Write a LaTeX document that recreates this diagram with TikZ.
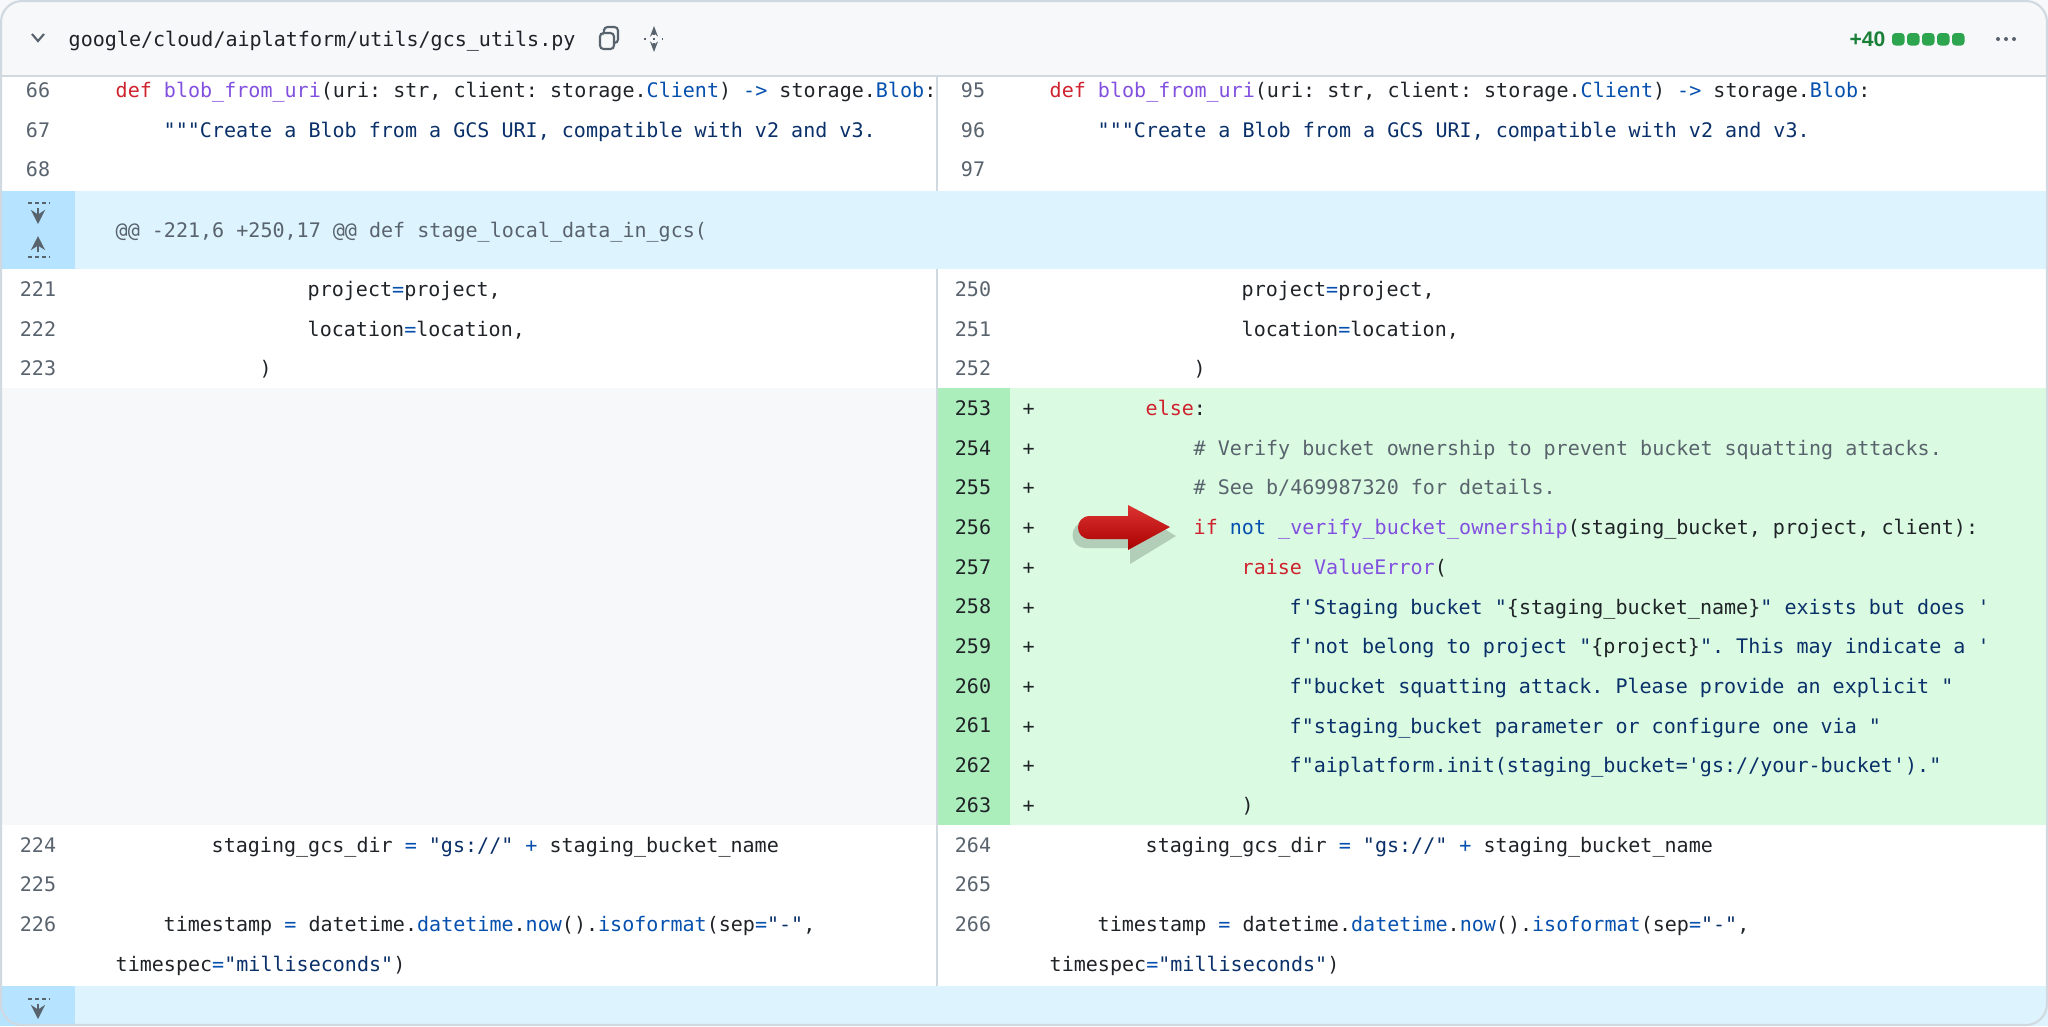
\documentclass[tikz,border=0pt]{standalone}
\usepackage{fontspec}
\setmonofont{DejaVu Sans Mono}
\setsansfont{Liberation Sans}
\usetikzlibrary{positioning,arrows.meta}
\definecolor{kwred}{HTML}{CF222E}
\definecolor{fnpurple}{HTML}{8250DF}
\definecolor{cblue}{HTML}{0550AE}
\definecolor{strblue}{HTML}{0A3069}
\definecolor{cmgray}{HTML}{59636E}
\definecolor{txt}{HTML}{1F2328}
\definecolor{numgray}{HTML}{59636E}
\definecolor{addbg}{HTML}{DAFBE1}
\definecolor{addnum}{HTML}{ACEEBB}
\definecolor{hunkbg}{HTML}{DDF4FF}
\definecolor{hunknum}{HTML}{B6E3FF}
\definecolor{emptybg}{HTML}{F6F8FA}
\definecolor{bordergray}{HTML}{D1D9E0}
\definecolor{plusgreen}{HTML}{1A7F37}
\definecolor{sqgreen}{HTML}{2DA44E}
\definecolor{arrowred}{HTML}{D40000}
\newcommand\kw[1]{\textcolor{kwred}{#1}}
\newcommand\fn[1]{\textcolor{fnpurple}{#1}}
\newcommand\bl[1]{\textcolor{cblue}{#1}}
\newcommand\st[1]{\textcolor{strblue}{#1}}
\newcommand\cm[1]{\textcolor{cmgray}{#1}}
\tikzstyle{code}=[anchor=mid west,inner sep=0pt,text=txt,font=\fontsize{5.7}{7}\selectfont\ttfamily]
\tikzstyle{lnum}=[inner sep=0pt,text=numgray,font=\fontsize{5.7}{7}\selectfont\ttfamily]
\tikzstyle{sq}=[fill=sqgreen,rounded corners=1pt]
\tikzstyle{expand}=[numgray,line width=0.8pt,-{Stealth[length=4pt,width=4pt]}]

\begin{document}
\begin{tikzpicture}[x=0.01cm,y=-0.01cm]
\useasboundingbox (0,0) rectangle (2048,1026);
% backgrounds
\fill[emptybg] (0,0) rectangle (2048,76);
\fill[hunkbg] (0,191) rectangle (2048,269);
\fill[hunknum] (0,191) rectangle (75,269);
\fill[emptybg] (0,388) rectangle (937,825);
\fill[addbg] (937,388) rectangle (2048,825);
\fill[addnum] (937,388) rectangle (1010,825);
\fill[hunkbg] (0,986) rectangle (2048,1026);
\fill[hunknum] (0,986) rectangle (75,1026);
\draw[bordergray] (0,76) -- (2048,76);
\draw[bordergray] (937,76) -- (937,191) (937,269) -- (937,986);
\draw[bordergray,line width=0.6pt,rounded corners=6pt] (1,1) rectangle (2047,1025);

% header
\draw[numgray,line width=0.6pt] (32,34) -- (38,41) -- (44,34);
\node[code] (file) at (68,39) {google/cloud/aiplatform/utils/gcs\_utils.py};
\draw[numgray,line width=0.6pt,rounded corners=1pt] (600,33) rectangle (614,49) (604,29) -- (604,27) -- (618,27) -- (618,43) -- (614,43);
\draw[numgray,line width=0.5pt,dotted] (644,39) -- (664,39);
\draw[numgray,line width=0.6pt,-{Stealth[length=3pt]}] (654,35) -- (654,26);
\draw[numgray,line width=0.6pt,-{Stealth[length=3pt]}] (654,43) -- (654,52);
\node[anchor=mid east,inner sep=0pt,text=plusgreen,font=\fontsize{6}{7}\selectfont\sffamily\bfseries] (stat) at (1886,39) {+40};
\foreach \i in {0,...,4}
  \fill[sq] (1892+\i*15,33) rectangle +(12.5,12.5);
\foreach \i in {-8,0,8}
  \fill[numgray] (2006+\i,39) circle (2);

% expanders
\draw[numgray,line width=0.6pt,dash pattern=on 1pt off 1pt] (28,203) -- (50,203) (28,257) -- (50,257) (28,999) -- (50,999);
\draw[expand] (38,208) -- (38,224);
\draw[expand] (38,252) -- (38,236);
\draw[expand] (38,1004) -- (38,1019);
\node[code,text=numgray] (hunk) at (115,230) {@@ -221,6 +250,17 @@ def stage\_local\_data\_in\_gcs(};

% left side
\node[lnum] (n66) at (38,90) {66};
\node[lnum] (n67) at (38,129.7) {67};
\node[lnum] (n68) at (38,169.4) {68};
\node[lnum] (n221) at (38,289) {221};
\node[lnum] (n222) at (38,328.7) {222};
\node[lnum] (n223) at (38,368.4) {223};
\node[lnum] (n224) at (38,845) {224};
\node[lnum] (n225) at (38,884.5) {225};
\node[lnum] (n226) at (38,924) {226};
\node[code] (a66) at (115,90) {\kw{def} \fn{blob\_from\_uri}(uri: str, client: storage.\bl{Client}) \bl{->} storage.\bl{Blob}:};
\node[code] (a67) at (163,129.7) {\st{"""Create a Blob from a GCS URI, compatible with v2 and v3.}};
\node[code] (a221) at (307,289) {project\bl{=}project,};
\node[code] (a222) at (307,328.7) {location\bl{=}location,};
\node[code] (a223) at (259,368.4) {)};
\node[code] (a224) at (211,845) {staging\_gcs\_dir \bl{=} \st{"gs://"} \bl{+} staging\_bucket\_name};
\node[code] (a226) at (163,924) {timestamp \bl{=} datetime.\bl{datetime}.\bl{now}().\bl{isoformat}(sep\bl{=}\st{"-"},};
\node[code] (a226b) at (115,964) {timespec\bl{=}\st{"milliseconds"})};

% right side
\node[lnum] (n95) at (973,90) {95};
\node[lnum] (n96) at (973,129.7) {96};
\node[lnum] (n97) at (973,169.4) {97};
\node[lnum] (n250) at (973,289) {250};
\node[lnum] (n251) at (973,328.7) {251};
\node[lnum] (n252) at (973,368.4) {252};
\foreach \n [count=\i from 0] in {253,...,263} {
  \node[lnum,text=txt] (n\n) at (973,408+\i*39.7) {\n};
  \node[code] (p\n) at (1022,408+\i*39.7) {+};
}
\node[lnum] (n264) at (973,845) {264};
\node[lnum] (n265) at (973,884.5) {265};
\node[lnum] (n266) at (973,924) {266};
\node[code] (b95) at (1049,90) {\kw{def} \fn{blob\_from\_uri}(uri: str, client: storage.\bl{Client}) \bl{->} storage.\bl{Blob}:};
\node[code] (b96) at (1097,129.7) {\st{"""Create a Blob from a GCS URI, compatible with v2 and v3.}};
\node[code] (b250) at (1241,289) {project\bl{=}project,};
\node[code] (b251) at (1241,328.7) {location\bl{=}location,};
\node[code] (b252) at (1193,368.4) {)};
\node[code] (b253) at (1145,408) {\kw{else}:};
\node[code] (b254) at (1193,447.7) {\cm{\# Verify bucket ownership to prevent bucket squatting attacks.}};
\node[code] (b255) at (1193,487.4) {\cm{\# See b/469987320 for details.}};
\node[code] (b256) at (1193,527.1) {\kw{if} \bl{not} \fn{\_verify\_bucket\_ownership}(staging\_bucket, project, client):};
\node[code] (b257) at (1241,566.8) {\kw{raise} \fn{ValueError}(};
\node[code] (b258) at (1289,606.5) {\st{f'Staging bucket "}\{staging\_bucket\_name\}\st{" exists but does '}};
\node[code] (b259) at (1289,646.2) {\st{f'not belong to project "}\{project\}\st{". This may indicate a '}};
\node[code] (b260) at (1289,685.9) {\st{f"bucket squatting attack. Please provide an explicit "}};
\node[code] (b261) at (1289,725.6) {\st{f"staging\_bucket parameter or configure one via "}};
\node[code] (b262) at (1289,765.3) {\st{f"aiplatform.init(staging\_bucket='gs://your-bucket')."}};
\node[code] (b263) at (1241,805) {)};
\node[code] (b264) at (1145,845) {staging\_gcs\_dir \bl{=} \st{"gs://"} \bl{+} staging\_bucket\_name};
\node[code] (b266) at (1097,924) {timestamp \bl{=} datetime.\bl{datetime}.\bl{now}().\bl{isoformat}(sep\bl{=}\st{"-"},};
\node[code] (b266b) at (1049,964) {timespec\bl{=}\st{"milliseconds"})};

% pointer arrow
\fill[black,opacity=0.18] (1086,522) -- (1130,522) -- (1130,508) -- (1176,536) -- (1130,564) -- (1130,548) -- (1086,548) .. controls (1068,548) and (1068,522) .. (1086,522) -- cycle;
\shade[top color=arrowred!80!white,bottom color=arrowred!80!black] (1090,516) -- (1128,516) -- (1128,505) -- (1170,527) -- (1128,550) -- (1128,539) -- (1090,539) .. controls (1074,539) and (1074,516) .. (1090,516) -- cycle;
\end{tikzpicture}
\end{document}
